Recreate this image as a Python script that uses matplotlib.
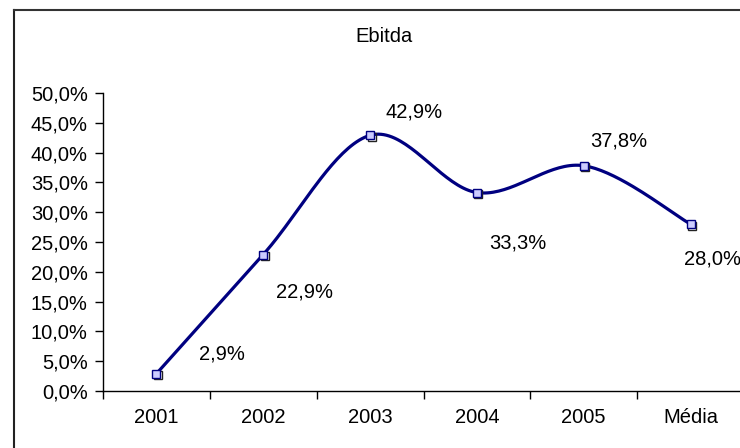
import numpy as np
import matplotlib
matplotlib.use("Agg")
import matplotlib.pyplot as plt
import matplotlib.transforms as mtransforms
from matplotlib.lines import Line2D
from matplotlib.ticker import FuncFormatter, MultipleLocator

plt.rcParams['font.family'] = ['Liberation Sans', 'DejaVu Sans']

categories = ["2001", "2002", "2003", "2004", "2005", "Média"]
ebitda = [0.029, 0.229, 0.429, 0.333, 0.378, 0.280]
labels = ["2,9%", "22,9%", "42,9%", "33,3%", "37,8%", "28,0%"]
label_offsets = [(66, 20), (41, -37), (44, 23), (41, -50), (35, 25), (22, -35)]

FS = 14.5
W, H, DPI = 740, 448, 100
fig = plt.figure(figsize=(W / DPI, H / DPI), dpi=DPI)
ax = fig.add_axes([103 / W, (H - 391) / H, 641 / W, 298 / H])

x = np.arange(len(categories), dtype=float)
y = np.array(ebitda)


def smooth(xs, ys, n=40):
    # Catmull-Rom style smoothing between consecutive points
    px = np.concatenate([[xs[0]], xs, [xs[-1]]])
    py = np.concatenate([[ys[0]], ys, [ys[-1]]])
    out_x, out_y = [], []
    t = np.linspace(0, 1, n)
    for i in range(1, len(px) - 2):
        p0, p1, p2, p3 = [np.array([px[j], py[j]]) for j in (i - 1, i, i + 1, i + 2)]
        c1 = p1 + (p2 - p0) / 6
        c2 = p2 - (p3 - p1) / 6
        b = ((1 - t) ** 3)[:, None] * p1 + (3 * (1 - t) ** 2 * t)[:, None] * c1 \
            + (3 * (1 - t) * t ** 2)[:, None] * c2 + (t ** 3)[:, None] * p2
        out_x.extend(b[:, 0])
        out_y.extend(b[:, 1])
    return np.array(out_x), np.array(out_y)


sx, sy = smooth(x, y * 10)
ax.plot(sx, sy / 10, color="#000080", lw=2.3, solid_capstyle="round", zorder=3)

shadow = ax.transData + mtransforms.ScaledTranslation(1.5 / DPI, -1.5 / DPI, fig.dpi_scale_trans)
ax.plot(x, y, ls="none", marker="s", ms=5.5, mfc="none", mec="#222222", mew=1.0,
        transform=shadow, zorder=4)
ax.plot(x, y, ls="none", marker="s", ms=5.5, mfc="#ccccff", mec="#000080", mew=1.0, zorder=5)

for xi, yi, lab, (dx, dy) in zip(x, y, labels, label_offsets):
    ax.annotate(lab, (xi, yi), xytext=(dx, dy), textcoords="offset pixels",
                ha="center", va="center", fontsize=FS, color="black")

ax.set_xlim(-0.5, 5.5)
ax.set_ylim(0, 0.5)
ax.yaxis.set_major_locator(MultipleLocator(0.05))
ax.yaxis.set_major_formatter(FuncFormatter(lambda v, p: f"{v * 100:.1f}%".replace(".", ",")))
ax.set_xticks(np.arange(-0.5, 6, 1.0))
ax.set_xticklabels([])
ax.set_xticks(x, minor=True)
ax.set_xticklabels(categories, minor=True)
ax.tick_params(axis="x", which="minor", length=0, pad=12, labelsize=FS)
ax.tick_params(axis="x", which="major", length=6, width=1, direction="out")
ax.tick_params(axis="y", length=6, width=1, direction="out", pad=5, labelsize=FS)
for s in ("top", "right"):
    ax.spines[s].set_visible(False)
for s in ("left", "bottom"):
    ax.spines[s].set_linewidth(1)

fig.text(384 / W, 1 - 37 / H, "Ebitda", ha="center", va="center", fontsize=FS)

fig.add_artist(Line2D([13.5 / W, 13.5 / W], [0, 1 - 10 / H], transform=fig.transFigure,
                      color="#222222", lw=1.5))
fig.add_artist(Line2D([13.5 / W, 1], [1 - 10 / H, 1 - 10 / H], transform=fig.transFigure,
                      color="#333333", lw=1.5))

fig.savefig("out.png", dpi=DPI)
